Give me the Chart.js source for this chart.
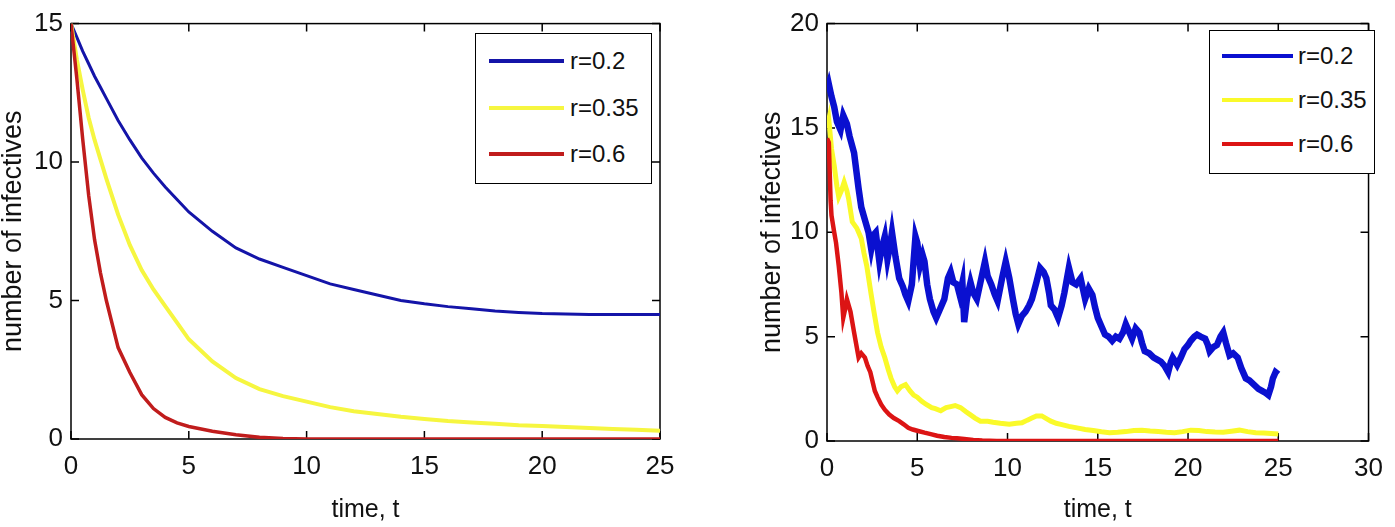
<!DOCTYPE html>
<html>
<head>
<meta charset="utf-8">
<script src="https://cdn.jsdelivr.net/npm/chart.js@4.4.1/dist/chart.umd.min.js"></script>
<style>
  html, body { margin: 0; padding: 0; background: #fff; }
  body { width: 1395px; height: 527px; position: relative; overflow: hidden; }
  .panel { position: absolute; top: 0; height: 527px; }
  .legend { position: absolute; border: 1.5px solid #000; background: #fff; box-sizing: border-box; }
  .legend .swatch { position: absolute; height: 4px; }
  .legend .label {
    position: absolute; font-family: 'Liberation Sans Narrow', 'Liberation Sans', Arial, sans-serif;
    font-size: 24px; line-height: 24px; color: #111; white-space: nowrap;
  }
</style>
</head>
<body>
<div class="panel" style="left:0;width:700px"><canvas id="left" width="700" height="527"></canvas></div>
<div class="panel" style="left:700px;width:695px"><canvas id="right" width="695" height="527"></canvas></div>
<div id="legend-left" class="legend" style="left:475px;top:33px;width:177px;height:151px"></div>
<div id="legend-right" class="legend" style="left:1209px;top:30px;width:166px;height:144px"></div>
<script>
// deterministic model (left panel)
const leftTime = [0, 0.25, 0.5, 0.75, 1, 1.25, 1.5, 2, 2.5, 3, 3.5, 4, 4.5, 5, 6, 7, 8, 9, 10, 11, 12, 13, 14, 15, 16, 17, 18, 19, 20, 21, 22, 23, 24, 25];
const leftR02 = [15, 14.5, 14.0, 13.55, 13.1, 12.7, 12.3, 11.5, 10.8, 10.15, 9.6, 9.1, 8.65, 8.2, 7.5, 6.9, 6.5, 6.2, 5.9, 5.6, 5.4, 5.2, 5.0, 4.88, 4.78, 4.7, 4.62, 4.57, 4.53, 4.51, 4.5, 4.5, 4.5, 4.5];
const leftR035 = [15, 13.7, 12.6, 11.6, 10.8, 10.1, 9.4, 8.1, 7.0, 6.1, 5.4, 4.8, 4.2, 3.6, 2.8, 2.2, 1.8, 1.55, 1.35, 1.15, 1.0, 0.9, 0.8, 0.72, 0.65, 0.6, 0.55, 0.5, 0.47, 0.43, 0.4, 0.36, 0.33, 0.3];
const leftR06 = [15, 13, 10.8, 8.8, 7.2, 6.0, 5.0, 3.3, 2.4, 1.6, 1.1, 0.78, 0.58, 0.45, 0.28, 0.15, 0.06, 0.02, 0, 0, 0, 0, 0, 0, 0, 0, 0, 0, 0, 0, 0, 0, 0, 0];

// stochastic model (right panel)
const rightTimeR02 = [0, 0.1, 0.25, 0.4, 0.55, 0.75, 0.9, 1.1, 1.25, 1.5, 1.75, 1.9, 2.1, 2.3, 2.45, 2.6, 2.7, 2.9, 3.05, 3.2, 3.35, 3.5, 3.6, 3.8, 4.0, 4.2, 4.35, 4.5, 4.7, 4.9, 5.0, 5.15, 5.3, 5.4, 5.55, 5.7, 5.9, 6.05, 6.3, 6.5, 6.7, 6.85, 7.0, 7.2, 7.35, 7.5, 7.6, 7.75, 7.95, 8.1, 8.3, 8.5, 8.75, 8.9, 9.1, 9.3, 9.45, 9.7, 9.9, 10.1, 10.3, 10.45, 10.6, 10.8, 11.0, 11.2, 11.35, 11.6, 11.8, 12.0, 12.15, 12.3, 12.4, 12.6, 12.8, 13.0, 13.15, 13.4, 13.6, 13.8, 14.05, 14.3, 14.5, 14.7, 14.85, 15.0, 15.2, 15.4, 15.6, 15.8, 16.0, 16.2, 16.4, 16.55, 16.7, 16.9, 17.1, 17.3, 17.45, 17.6, 17.85, 18.1, 18.3, 18.5, 18.7, 18.9, 19.05, 19.15, 19.3, 19.4, 19.6, 19.8, 20.0, 20.15, 20.35, 20.5, 20.7, 20.95, 21.1, 21.2, 21.4, 21.6, 21.8, 21.95, 22.1, 22.3, 22.5, 22.75, 22.95, 23.2, 23.4, 23.65, 23.9, 24.1, 24.3, 24.45, 24.6, 24.7, 24.85, 25.0];
const rightR02 = [16.8, 17.1, 16.5, 16.0, 15.3, 14.9, 15.6, 15.2, 14.6, 13.8, 12.1, 11.2, 10.6, 10.0, 9.2, 9.9, 10.0, 8.6, 9.3, 9.8, 8.7, 9.4, 10.0, 8.8, 7.8, 7.4, 7.0, 6.7, 7.5, 9.8, 9.5, 8.4, 8.9, 8.6, 7.5, 6.8, 6.2, 5.9, 6.4, 6.8, 7.8, 8.1, 7.6, 7.5, 7.0, 7.6, 5.7, 6.8, 7.6, 7.1, 6.8, 7.6, 8.6, 7.9, 7.5, 7.0, 6.7, 7.8, 8.6, 7.8, 6.8, 6.1, 5.6, 6.0, 6.2, 6.5, 6.8, 7.6, 8.3, 8.1, 7.8, 7.1, 6.5, 6.3, 5.9, 6.5, 7.1, 8.3, 7.6, 7.5, 7.8, 6.8, 7.3, 7.0, 6.4, 5.9, 5.5, 5.1, 5.0, 4.8, 5.0, 4.9, 5.2, 5.6, 5.3, 4.9, 5.4, 5.2, 4.7, 4.3, 4.2, 4.0, 3.9, 3.8, 3.6, 3.3, 3.8, 4.0, 3.8, 3.65, 4.0, 4.4, 4.6, 4.8, 5.0, 5.1, 5.0, 4.9, 4.6, 4.3, 4.5, 4.6, 5.0, 5.2, 4.7, 4.1, 4.2, 4.0, 3.5, 3.0, 2.9, 2.7, 2.5, 2.4, 2.3, 2.2, 2.6, 3.0, 3.3, 3.2];

const rightTimeR035 = [0, 0.1, 0.25, 0.4, 0.55, 0.65, 0.8, 0.95, 1.1, 1.2, 1.4, 1.65, 1.9, 2.05, 2.2, 2.45, 2.6, 2.8, 3.0, 3.2, 3.4, 3.55, 3.75, 3.9, 4.1, 4.35, 4.6, 4.8, 5.0, 5.25, 5.5, 5.8, 6.0, 6.3, 6.6, 6.85, 7.1, 7.4, 7.7, 7.95, 8.2, 8.5, 8.9, 9.2, 9.6, 10.1, 10.5, 10.8, 11.1, 11.35, 11.6, 11.9, 12.2, 12.4, 12.7, 12.95, 13.4, 13.85, 14.3, 14.75, 15.2, 15.65, 16.1, 16.55, 17.0, 17.45, 17.9, 18.35, 18.8, 19.25, 19.7, 20.15, 20.6, 21.05, 21.5, 21.95, 22.4, 22.85, 23.3, 23.75, 24.2, 24.6, 25.0];
const rightR035 = [15.0, 15.4, 14.0, 13.2, 12.2, 11.7, 12.0, 12.4, 12.0, 11.6, 10.5, 10.2, 9.7, 9.0, 8.4, 7.0, 6.2, 5.2, 4.5, 4.0, 3.4, 3.0, 2.6, 2.4, 2.6, 2.7, 2.4, 2.2, 2.1, 1.9, 1.75, 1.6, 1.55, 1.45, 1.6, 1.65, 1.7, 1.6, 1.4, 1.25, 1.1, 0.95, 0.95, 0.9, 0.85, 0.8, 0.85, 0.87, 1.0, 1.1, 1.2, 1.2, 1.05, 0.95, 0.85, 0.8, 0.7, 0.63, 0.55, 0.5, 0.44, 0.4, 0.42, 0.45, 0.5, 0.52, 0.48, 0.45, 0.42, 0.4, 0.45, 0.52, 0.5, 0.45, 0.43, 0.42, 0.47, 0.52, 0.45, 0.4, 0.38, 0.36, 0.33];

const rightTimeR06 = [0, 0.1, 0.2, 0.25, 0.4, 0.5, 0.65, 0.8, 0.9, 1.0, 1.1, 1.3, 1.5, 1.75, 1.9, 2.1, 2.25, 2.4, 2.65, 2.8, 3.0, 3.2, 3.45, 3.7, 4.0, 4.25, 4.5, 4.75, 5.05, 5.4, 5.8, 6.1, 6.5, 6.9, 7.2, 7.6, 8.1, 8.6, 9.4, 25];
const rightR06 = [14.5, 14.3, 11.5, 10.8, 10.0, 9.5, 8.4, 7.1, 5.9, 6.3, 6.8, 6.2, 5.2, 4.0, 4.2, 4.0, 3.6, 3.3, 2.4, 2.1, 1.75, 1.5, 1.27, 1.1, 0.95, 0.8, 0.63, 0.55, 0.48, 0.4, 0.32, 0.25, 0.19, 0.15, 0.13, 0.1, 0.05, 0.02, 0, 0];

const seriesLabels = ['r=0.2', 'r=0.35', 'r=0.6'];
const leftColors = ['#1414a8', '#f6f640', '#c01c1c'];
const rightColors = ['#0a10d0', '#fafa2a', '#dc1414'];

const axisFont = "'Liberation Sans Narrow', 'Liberation Sans', Arial, sans-serif";

const frameTicks = {
  id: 'frameTicks',
  beforeDatasetsDraw(chart) {
    const { ctx, chartArea: a, scales } = chart;
    const len = 8;
    ctx.save();
    ctx.strokeStyle = '#000';
    ctx.lineWidth = 1.5;
    ctx.strokeRect(a.left, a.top, a.right - a.left, a.bottom - a.top);
    ctx.beginPath();
    scales.x.ticks.forEach(t => {
      const px = scales.x.getPixelForValue(t.value);
      ctx.moveTo(px, a.bottom); ctx.lineTo(px, a.bottom - len);
      ctx.moveTo(px, a.top); ctx.lineTo(px, a.top + len);
    });
    scales.y.ticks.forEach(t => {
      const py = scales.y.getPixelForValue(t.value);
      ctx.moveTo(a.left, py); ctx.lineTo(a.left + len, py);
      ctx.moveTo(a.right, py); ctx.lineTo(a.right - len, py);
    });
    ctx.stroke();
    ctx.restore();
  }
};

function toPoints(xs, ys) {
  return xs.map((x, i) => ({ x: x, y: ys[i] }));
}

function makeChart(id, datasets, opts) {
  return new Chart(document.getElementById(id), {
    type: 'line',
    data: { datasets: datasets },
    options: {
      responsive: false,
      animation: false,
      devicePixelRatio: 1,
      layout: { padding: opts.padding },
      elements: { point: { radius: 0 }, line: { tension: 0 } },
      plugins: { legend: { display: false }, tooltip: { enabled: false } },
      scales: {
        x: {
          type: 'linear', min: 0, max: opts.xMax,
          afterFit: s => { s.height = opts.xHeight; },
          grid: { display: false, drawTicks: false },
          border: { display: false },
          ticks: { stepSize: 5, padding: 12, color: '#111', font: { family: axisFont, size: 26 } },
          title: { display: true, text: 'time, t', color: '#111', padding: { top: 0, bottom: 4 },
                   font: { family: axisFont, size: 25, lineHeight: 1 } }
        },
        y: {
          min: 0, max: opts.yMax,
          afterFit: s => { s.width = opts.yWidth; },
          grid: { display: false, drawTicks: false },
          border: { display: false },
          ticks: { stepSize: 5, padding: 8, color: '#111', font: { family: axisFont, size: 26 } },
          title: { display: true, text: 'number of infectives', color: '#111', padding: { top: 0, bottom: 0 },
                   font: { family: axisFont, size: 27, lineHeight: 1 } }
        }
      }
    },
    plugins: [frameTicks]
  });
}

makeChart('left', [
  { label: seriesLabels[0], data: toPoints(leftTime, leftR02), borderColor: leftColors[0], borderWidth: 3, order: 2 },
  { label: seriesLabels[1], data: toPoints(leftTime, leftR035), borderColor: leftColors[1], borderWidth: 4, order: 1 },
  { label: seriesLabels[2], data: toPoints(leftTime, leftR06), borderColor: leftColors[2], borderWidth: 3.5, order: 0 }
], { xMax: 25, yMax: 15, padding: { left: 0, right: 40, top: 16, bottom: 0 }, xHeight: 88, yWidth: 71 });

makeChart('right', [
  { label: seriesLabels[0], data: toPoints(rightTimeR02, rightR02), borderColor: rightColors[0], borderWidth: 6.5, order: 2 },
  { label: seriesLabels[1], data: toPoints(rightTimeR035, rightR035), borderColor: rightColors[1], borderWidth: 5, order: 1 },
  { label: seriesLabels[2], data: toPoints(rightTimeR06, rightR06), borderColor: rightColors[2], borderWidth: 4.5, order: 0 }
], { xMax: 30, yMax: 20, padding: { left: 59, right: 11, top: 14, bottom: 0 }, xHeight: 86, yWidth: 68 });

function buildLegend(id, colors, rows, lineX, lineW, textX) {
  const box = document.getElementById(id);
  seriesLabels.forEach((label, i) => {
    const sw = document.createElement('div');
    sw.className = 'swatch';
    sw.style.cssText = `left:${lineX}px;top:${rows[i] - 2}px;width:${lineW}px;background:${colors[i]}`;
    box.appendChild(sw);
    const tx = document.createElement('span');
    tx.className = 'label';
    tx.textContent = label;
    tx.style.left = textX + 'px';
    tx.style.top = (rows[i] - 12) + 'px';
    box.appendChild(tx);
  });
}

buildLegend('legend-left', leftColors, [27, 74, 120], 13, 75, 94);
buildLegend('legend-right', rightColors, [25, 69, 113], 12, 71, 88);
</script>
</body>
</html>
